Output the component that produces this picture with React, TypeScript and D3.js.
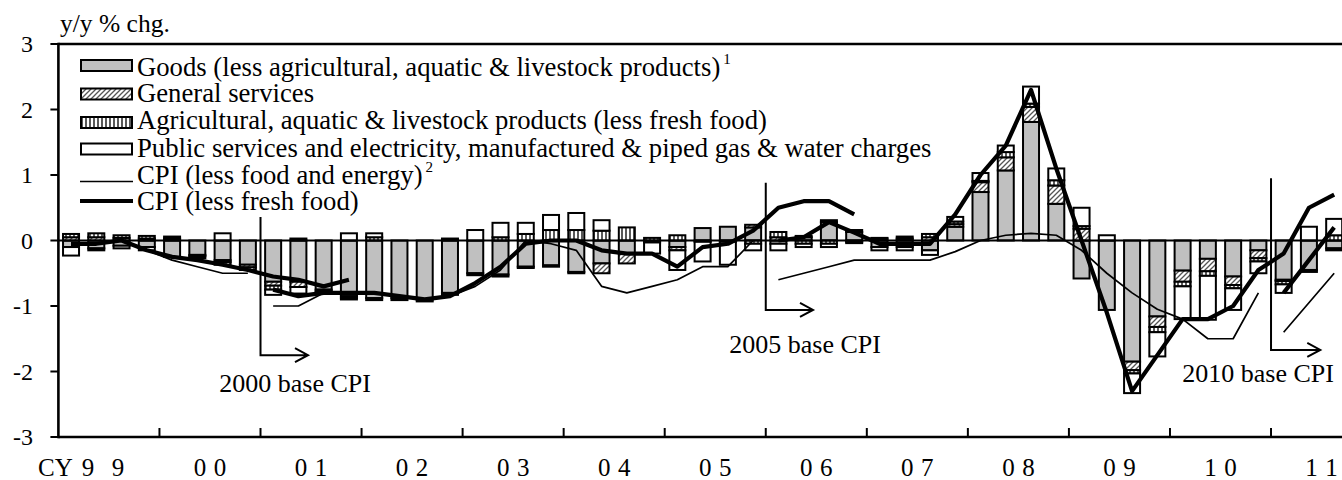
import React, { useEffect, useRef } from 'react';
import * as d3 from 'd3';

// quarterly, 1999Q1 .. 2011Q3 (y/y % chg. contributions)
const yearLabels = ['99', '00', '01', '02', '03', '04', '05', '06', '07', '08', '09', '10', '11'];

const goods = [
  -0.10, -0.12, -0.08, -0.10,
  -0.25, -0.22, -0.30, -0.37,
  -0.63, -0.63, -0.75, -0.85,
  -0.88, -0.88, -0.90, -0.80,
  -0.50, -0.52, -0.40, -0.38,
  -0.48, -0.35, -0.20, 0.00,
  -0.10, 0.19, 0.21, 0.20,
  -0.05, 0.05, 0.28, 0.13,
  -0.10, -0.10, -0.15, 0.21,
  0.74, 1.07, 1.81, 0.56,
  -0.58, -1.06, -1.85, -1.16,
  -0.46, -0.28, -0.55, -0.15,
  -0.60, -0.45, -0.12,
];
const generalServices = [
  0.05, 0.05, 0.04, 0.03,
  0.03, -0.02, -0.03, -0.04,
  -0.06, -0.08, -0.03, -0.03,
  -0.03, -0.03, -0.03, -0.03,
  -0.03, -0.03, -0.02, -0.02,
  -0.02, -0.15, -0.15, -0.03,
  -0.05, -0.02, -0.02, 0.04,
  0.05, 0.02, 0.03, 0.03,
  0.03, 0.03, 0.05, 0.04,
  0.15, 0.20, 0.23, 0.28,
  0.18, 0.00, -0.13, -0.16,
  -0.17, -0.19, -0.13, -0.12,
  -0.02, -0.03, -0.03,
];
const agricultural = [
  0.05, 0.06, 0.04, 0.04,
  0.03, -0.03, -0.04, -0.04,
  -0.06, 0.03, -0.02, -0.02,
  0.05, 0.00, 0.00, 0.03,
  0.00, 0.05, 0.10, 0.16,
  0.16, 0.15, 0.20, 0.04,
  0.08, 0.00, 0.00, -0.05,
  0.08, -0.05, -0.05, -0.02,
  0.01, 0.03, 0.05, 0.04,
  0.02, 0.08, 0.05, 0.08,
  0.04, 0.00, -0.05, -0.08,
  -0.07, -0.07, -0.05, -0.05,
  -0.05, 0.00, 0.08,
];
const publicCharges = [
  -0.13, -0.03, -0.04, -0.05,
  0.00, 0.00, 0.11, 0.00,
  -0.08, -0.10, 0.00, 0.11,
  0.06, 0.00, 0.00, 0.00,
  0.16, 0.22, 0.17, 0.23,
  0.26, 0.16, 0.00, -0.17,
  -0.30, -0.30, -0.35, -0.10,
  -0.10, -0.05, -0.05, -0.02,
  -0.05, -0.05, -0.07, 0.07,
  0.12, 0.10, 0.26, 0.18,
  0.28, 0.08, -0.30, -0.37,
  -0.50, -0.67, -0.33, -0.18,
  -0.13, 0.21, 0.25,
];

// CPI (less fresh food), by base year; start = quarter index of first value
const lessFreshFood95 = [-0.05, -0.05, 0.0, -0.15, -0.25, -0.3, -0.37, -0.45, -0.55, -0.6, -0.7, -0.6];
const lessFreshFood00 = [-0.75, -0.85, -0.8, -0.8, -0.8, -0.85, -0.9, -0.85, -0.65, -0.4, -0.05, 0.0,
  0.0, -0.15, -0.2, -0.2, -0.4, -0.1, -0.05, 0.15, 0.5, 0.6, 0.6, 0.4];
const lessFreshFood05 = [0.0, 0.05, 0.28, 0.12, -0.05, -0.05, -0.05, 0.4, 1.0, 1.45, 2.3, 1.1,
  0.0, -1.1, -2.3, -1.75, -1.2, -1.2, -1.0, -0.45, -0.2, 0.5, 0.7];
const lessFreshFood10 = [-0.8, -0.3, 0.2];

// CPI (less food and energy)
const lessFoodEnergy95 = [-0.05, -0.05, 0.0, -0.15, -0.3, -0.4, -0.5, -0.5];
const lessFoodEnergy00 = [-1.0, -1.0, -0.8, -0.8, -0.8, -0.85, -0.9, -0.85, -0.7, -0.45, 0.0, -0.05,
  -0.15, -0.7, -0.8, -0.7, -0.6, -0.4, -0.4, 0.0];
const lessFoodEnergy05 = [-0.6, -0.5, -0.4, -0.3, -0.3, -0.3, -0.3, -0.17, 0.0, 0.08, 0.11, 0.08,
  -0.15, -0.5, -0.8, -1.05, -1.2, -1.5, -1.5, -0.8];
const lessFoodEnergy10 = [-1.4, -0.95, -0.5];

const thinSeries = [
  { start: 0, values: lessFoodEnergy95 },
  { start: 8, values: lessFoodEnergy00 },
  { start: 28, values: lessFoodEnergy05 },
  { start: 48, values: lessFoodEnergy10 },
];
const thickSeries = [
  { start: 0, values: lessFreshFood95 },
  { start: 8, values: lessFreshFood00 },
  { start: 28, values: lessFreshFood05 },
  { start: 48, values: lessFreshFood10 },
];

// base-revision markers (quarter index, value units)
const baseMarks = [
  { at: 8, top: 0.36, bottom: -1.75, arrowTo: 9.88, label: '2000 base CPI', labelAt: 9.37, labelY: -2.31 },
  { at: 28, top: 0.88, bottom: -1.06, arrowTo: 29.87, label: '2005 base CPI', labelAt: 29.56, labelY: -1.72 },
  { at: 48, top: 0.95, bottom: -1.67, arrowTo: 49.95, label: '2010 base CPI', labelAt: 47.49, labelY: -2.16 },
];

const yTicks = [-3, -2, -1, 0, 1, 2, 3];
const keys = ['goods', 'services', 'agri', 'pub'];
const fills: Record<string, string> = {
  goods: '#c0c0c0',
  services: 'url(#hatch)',
  agri: 'url(#vlines)',
  pub: '#ffffff',
};
const legendItems = [
  { key: 'goods', label: 'Goods (less agricultural, aquatic & livestock products)', sup: '1' },
  { key: 'services', label: 'General services' },
  { key: 'agri', label: 'Agricultural, aquatic & livestock products (less fresh food)' },
  { key: 'pub', label: 'Public services and electricity, manufactured & piped gas & water charges' },
];

const FONT = 'Liberation Serif, Times New Roman, serif';
const LEGEND_FS = 26.7;

const App: React.FC = () => {
  const svgRef = useRef<SVGSVGElement>(null);

  useEffect(() => {
    if (!svgRef.current) return;
    const width = 1342;
    const height = 480;
    const left = 58.4;
    const qw = 25.263;

    const svg = d3.select(svgRef.current);
    svg.selectAll('*').remove();
    svg.attr('width', width).attr('height', height).style('font-family', FONT);

    const x = d3.scaleLinear().domain([0, 52]).range([left, left + 52 * qw]);
    const y = d3.scaleLinear().domain([-3, 3]).range([437, 44]);

    // patterns
    const defs = svg.append('defs');
    const hatch = defs.append('pattern').attr('id', 'hatch')
      .attr('patternUnits', 'userSpaceOnUse').attr('width', 5).attr('height', 5);
    hatch.append('rect').attr('width', 5).attr('height', 5).attr('fill', '#fff');
    hatch.append('path').attr('d', 'M-1,1 l2,-2 M0,5 l5,-5 M4,6 l2,-2')
      .attr('stroke', '#555').attr('stroke-width', 1.3);
    const vl = defs.append('pattern').attr('id', 'vlines')
      .attr('patternUnits', 'userSpaceOnUse').attr('width', 4).attr('height', 4);
    vl.append('rect').attr('width', 4).attr('height', 4).attr('fill', '#fff');
    vl.append('line').attr('x1', 2).attr('x2', 2).attr('y1', 0).attr('y2', 4)
      .attr('stroke', '#000').attr('stroke-width', 1.3);

    // stacked bars
    const table = goods.map((g, i) => ({
      i, goods: g, services: generalServices[i], agri: agricultural[i], pub: publicCharges[i],
    }));
    const series = d3.stack<any>().keys(keys).offset(d3.stackOffsetDiverging)(table);
    const barW = 16;
    series.forEach(layer => {
      svg.append('g').selectAll('rect')
        .data(layer.filter(d => Math.abs(d[1] - d[0]) > 1e-9))
        .enter().append('rect')
        .attr('x', d => x(d.data.i + 0.5) - barW / 2)
        .attr('y', d => y(Math.max(d[0], d[1])))
        .attr('width', barW)
        .attr('height', d => Math.abs(y(d[0]) - y(d[1])))
        .attr('fill', fills[layer.key])
        .attr('stroke', '#000')
        .attr('stroke-width', 2);
    });

    // zero line
    svg.append('line').attr('x1', left).attr('x2', width).attr('y1', y(0)).attr('y2', y(0))
      .attr('stroke', '#000').attr('stroke-width', 2);

    // lines
    const drawLines = (list: { start: number; values: number[] }[], sw: number) => {
      list.forEach(s => {
        const line = d3.line<number>()
          .x((_, k) => x(s.start + k + 0.5))
          .y(d => y(d));
        svg.append('path').attr('d', line(s.values) as string)
          .attr('fill', 'none').attr('stroke', '#000').attr('stroke-width', sw)
          .attr('stroke-linejoin', 'round');
      });
    };
    drawLines(thinSeries, 1.7);
    drawLines(thickSeries, 4.2);

    // base markers
    baseMarks.forEach(m => {
      const bx = x(m.at);
      const by = y(m.bottom);
      const ax = x(m.arrowTo);
      svg.append('path')
        .attr('d', `M${bx},${y(m.top)} V${by} H${ax} M${ax - 13},${by - 7} L${ax},${by} L${ax - 13},${by + 7}`)
        .attr('fill', 'none').attr('stroke', '#000').attr('stroke-width', 2);
      svg.append('text').attr('x', x(m.labelAt)).attr('y', y(m.labelY))
        .attr('text-anchor', 'middle').attr('font-size', 26)
        .text(m.label);
    });

    // frame and axes
    svg.append('line').attr('x1', left).attr('x2', width).attr('y1', y(3)).attr('y2', y(3))
      .attr('stroke', '#000').attr('stroke-width', 2.6);
    svg.append('line').attr('x1', left).attr('x2', width).attr('y1', y(-3)).attr('y2', y(-3))
      .attr('stroke', '#000').attr('stroke-width', 2.6);
    svg.append('line').attr('x1', left).attr('x2', left).attr('y1', y(3) - 1.3).attr('y2', y(-3) + 1.3)
      .attr('stroke', '#000').attr('stroke-width', 2.6);

    yTicks.forEach(t => {
      svg.append('line').attr('x1', left - 8).attr('x2', left).attr('y1', y(t)).attr('y2', y(t))
        .attr('stroke', '#000').attr('stroke-width', 2);
      svg.append('text').attr('x', 33).attr('y', y(t) + 8).attr('text-anchor', 'end')
        .attr('font-size', 24).text(String(t));
    });

    yearLabels.forEach((lab, k) => {
      if (k > 0) {
        svg.append('line').attr('x1', x(k * 4)).attr('x2', x(k * 4))
          .attr('y1', y(-3)).attr('y2', y(-3) - 9)
          .attr('stroke', '#000').attr('stroke-width', 2);
      }
      const c = x(k * 4 + 2);
      const offs = k === 0 ? [-21, 9] : [-10, 10];
      lab.split('').forEach((ch, j) => {
        svg.append('text').attr('x', c + offs[j]).attr('y', 476).attr('text-anchor', 'middle')
          .attr('font-size', 25).text(ch);
      });
    });
    svg.append('text').attr('x', 38).attr('y', 476).attr('font-size', 25).text('CY');

    svg.append('text').attr('x', 60).attr('y', 32).attr('font-size', 25.5).text('y/y % chg.');

    // legend
    const lg = svg.append('g');
    const swatchY = [65.5, 94, 122.5, 149];
    const textY = [76, 102, 129, 156.5, 184, 210];
    legendItems.forEach((it, k) => {
      lg.append('rect').attr('x', 81).attr('y', swatchY[k] - 5.5).attr('width', 51).attr('height', 11)
        .attr('fill', fills[it.key]).attr('stroke', '#000').attr('stroke-width', 2);
      const t = lg.append('text').attr('x', 137).attr('y', textY[k]).attr('font-size', LEGEND_FS)
        .text(it.label);
      if (it.sup) t.append('tspan').attr('dx', 3).attr('dy', -12).attr('font-size', 15).text(it.sup);
    });
    lg.append('line').attr('x1', 80).attr('x2', 133).attr('y1', 181.5).attr('y2', 181.5)
      .attr('stroke', '#000').attr('stroke-width', 1.7);
    const t5 = lg.append('text').attr('x', 137).attr('y', textY[4]).attr('font-size', LEGEND_FS)
      .text('CPI (less food and energy)');
    t5.append('tspan').attr('dx', 3).attr('dy', -12).attr('font-size', 15).text('2');
    lg.append('line').attr('x1', 80).attr('x2', 133).attr('y1', 201).attr('y2', 201)
      .attr('stroke', '#000').attr('stroke-width', 4.2);
    lg.append('text').attr('x', 137).attr('y', textY[5]).attr('font-size', LEGEND_FS)
      .text('CPI (less fresh food)');
  }, []);

  return (
    <svg ref={svgRef} style={{ position: 'absolute', left: 0, top: 0, background: '#fff' }} />
  );
};

export default App;
